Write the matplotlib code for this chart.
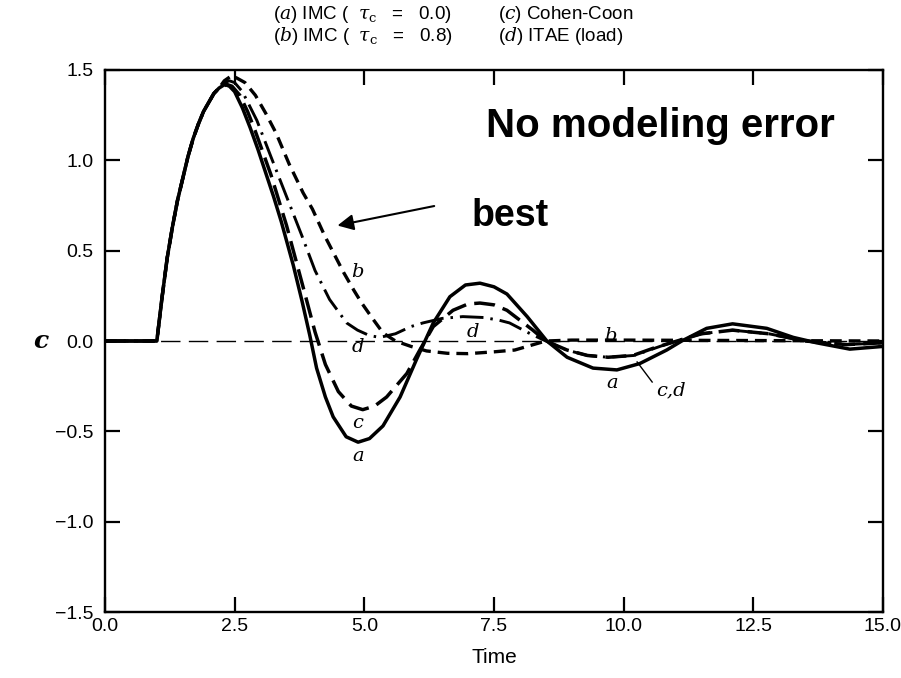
import matplotlib

matplotlib.use("Agg")
import matplotlib.pyplot as plt

plt.rcParams["font.family"] = ["Liberation Sans", "DejaVu Sans"]
plt.rcParams["mathtext.fontset"] = "dejavuserif"
plt.rcParams["lines.scale_dashes"] = False

# shared rise after the dead time (all four responses start together)
rise_t = [0.0, 1.0, 1.05, 1.1, 1.2, 1.3, 1.4, 1.5, 1.6, 1.7, 1.8, 1.9, 2.0,
          2.1, 2.2]
rise_c = [0.0, 0.0, 0.12, 0.24, 0.46, 0.63, 0.78, 0.90, 1.02, 1.12, 1.20,
          1.27, 1.32, 1.37, 1.40]

# (a) IMC tau_c = 0.0
a_t = [2.31, 2.4, 2.5, 2.65, 2.8, 2.95, 3.1, 3.25, 3.4, 3.63, 3.8, 3.95, 4.08,
       4.25, 4.4, 4.65, 4.88, 5.1, 5.36, 5.69, 6.01, 6.33, 6.65, 6.95, 7.23,
       7.5, 7.75, 8.14, 8.52, 8.91, 9.41, 9.87, 10.31, 10.83, 11.12, 11.6,
       12.1, 12.76, 13.27, 13.72, 14.36, 15.0]
a_c = [1.42, 1.41, 1.38, 1.29, 1.18, 1.06, 0.93, 0.80, 0.66, 0.42, 0.22, 0.03,
       -0.15, -0.31, -0.42, -0.53, -0.56, -0.54, -0.47, -0.31, -0.10, 0.10,
       0.245, 0.31, 0.32, 0.30, 0.26, 0.135, 0.0, -0.09, -0.15, -0.16, -0.125,
       -0.05, 0.0, 0.07, 0.095, 0.07, 0.02, -0.01, -0.045, -0.03]

# (b) IMC tau_c = 0.8
b_t = [2.3, 2.45, 2.7, 2.9, 3.1, 3.3, 3.55, 3.82, 4.0, 4.24, 4.42, 4.6, 4.8,
       4.95, 5.17, 5.36, 5.6, 5.9, 6.2, 6.6, 7.0, 7.5, 7.9, 8.2, 8.5, 9.0,
       10.0, 15.0]
b_c = [1.44, 1.47, 1.43, 1.36, 1.26, 1.15, 0.98, 0.82, 0.73, 0.58, 0.48, 0.38,
       0.28, 0.21, 0.12, 0.045, 0.0, -0.03, -0.055, -0.068, -0.07, -0.06,
       -0.05, -0.025, 0.0, 0.005, 0.005, 0.0]

# (c) Cohen-Coon
c_t = [2.35, 2.45, 2.6, 2.75, 2.9, 3.2, 3.5, 3.8, 4.05, 4.25, 4.5, 4.75, 4.97,
       5.2, 5.43, 5.82, 6.07, 6.33, 6.71, 7.0, 7.23, 7.5, 7.75, 8.25, 8.5,
       8.91, 9.3, 9.7, 10.18, 10.57, 11.03, 11.5, 12.1, 12.8, 13.5, 14.3, 15.0]
c_c = [1.42, 1.41, 1.36, 1.27, 1.16, 0.92, 0.64, 0.32, 0.05, -0.13, -0.28,
       -0.36, -0.38, -0.36, -0.31, -0.18, -0.05, 0.08, 0.17, 0.205, 0.21, 0.20,
       0.17, 0.06, 0.0, -0.05, -0.08, -0.09, -0.08, -0.04, 0.0, 0.04, 0.06,
       0.04, 0.0, -0.02, -0.01]

# (d) ITAE (load)
d_t = [2.3, 2.4, 2.5, 2.65, 2.93, 3.2, 3.5, 3.8, 4.05, 4.33, 4.66, 4.87, 5.1,
       5.3, 5.6, 5.9, 6.13, 6.5, 6.9, 7.3, 7.6, 7.8, 8.2, 8.5, 8.9, 9.3, 9.7,
       10.2, 10.6, 11.0, 11.5, 12.1, 12.8, 13.5, 14.3, 15.0]
d_c = [1.43, 1.44, 1.43, 1.38, 1.22, 1.02, 0.80, 0.58, 0.39, 0.23, 0.10, 0.06,
       0.03, 0.02, 0.04, 0.08, 0.10, 0.125, 0.135, 0.13, 0.115, 0.10, 0.04,
       0.0, -0.05, -0.08, -0.09, -0.08, -0.04, 0.0, 0.04, 0.06, 0.04, 0.0,
       -0.02, -0.01]

x_ticks = [0.0, 2.5, 5.0, 7.5, 10.0, 12.5, 15.0]
y_ticks = [-1.5, -1.0, -0.5, 0.0, 0.5, 1.0, 1.5]

fig = plt.figure(figsize=(9.01, 6.78), dpi=100)
ax = fig.add_axes([0.1165, 0.0973, 0.8635, 0.7995])

ax.axhline(0.0, color="black", lw=1.0, dashes=(14, 6), zorder=1)

line_kw = dict(color="black", solid_joinstyle="round", dash_joinstyle="round")
ax.plot(rise_t + a_t, rise_c + a_c, lw=2.5, **line_kw)
ax.plot(rise_t + b_t, rise_c + b_c, lw=2.4, dashes=(8.5, 5), **line_kw)
ax.plot(rise_t + c_t, rise_c + c_c, lw=2.5, dashes=(15, 6), **line_kw)
ax.plot(rise_t + d_t, rise_c + d_c, lw=2.1, dashes=(17, 5, 1.8, 5), **line_kw)

ax.set_xlim(0, 15)
ax.set_ylim(-1.5, 1.5)
ax.set_xticks(x_ticks)
ax.set_yticks(y_ticks)
ax.set_xticklabels([f"{v:.1f}" for v in x_ticks])
ax.set_yticklabels([f"{v:.1f}".replace("-", "\u2212") for v in y_ticks])
ax.tick_params(direction="in", length=11, width=1.6, top=True, right=True,
               labelsize=14)
ax.tick_params(axis="y", pad=8)
ax.tick_params(axis="x", pad=4)
for sp in ax.spines.values():
    sp.set_linewidth(1.7)

ax.set_xlabel("Time", fontsize=15, labelpad=10)
ax.set_ylabel("c", fontsize=18, family="DejaVu Serif", style="italic",
              weight="bold", rotation=0, va="center")
ax.yaxis.set_label_coords(-0.083, 0.5)

# curve labels
lab = dict(family="DejaVu Serif", style="italic", fontsize=14, ha="center",
           va="center")
ax.text(4.87, 0.38, "b", **lab)
ax.text(4.87, -0.035, "d", **lab)
ax.text(4.88, -0.455, "c", **lab)
ax.text(4.88, -0.635, "a", **lab)
ax.text(7.1, 0.05, "d", **lab)
ax.text(9.74, 0.025, "b", **lab)
ax.text(9.78, -0.23, "a", **lab)
ax.text(10.92, -0.275, "c,d", **lab)
ax.plot([10.55, 10.26], [-0.227, -0.116], color="black", lw=1.0)

ax.text(10.7, 1.19, "No modeling error", fontsize=29, weight="bold",
        ha="center", va="center")
ax.text(7.07, 0.69, "best", fontsize=27, weight="bold", ha="left",
        va="center")
ax.annotate("", xy=(4.43, 0.636), xytext=(6.4, 0.75),
            arrowprops=dict(arrowstyle="-|>", color="black", lw=1.5,
                            mutation_scale=24))

# legend block above the axes
leg_kw = dict(fontsize=13.5, va="center")
fig.text(0.303, 0.978, r"($a$) IMC (  $\tau_{\rm c}$   =   0.0)", **leg_kw)
fig.text(0.303, 0.947, r"($b$) IMC (  $\tau_{\rm c}$   =   0.8)", **leg_kw)
fig.text(0.553, 0.978, r"($c$) Cohen-Coon", **leg_kw)
fig.text(0.553, 0.947, r"($d$) ITAE (load)", **leg_kw)

fig.savefig("out.png", dpi=100)
